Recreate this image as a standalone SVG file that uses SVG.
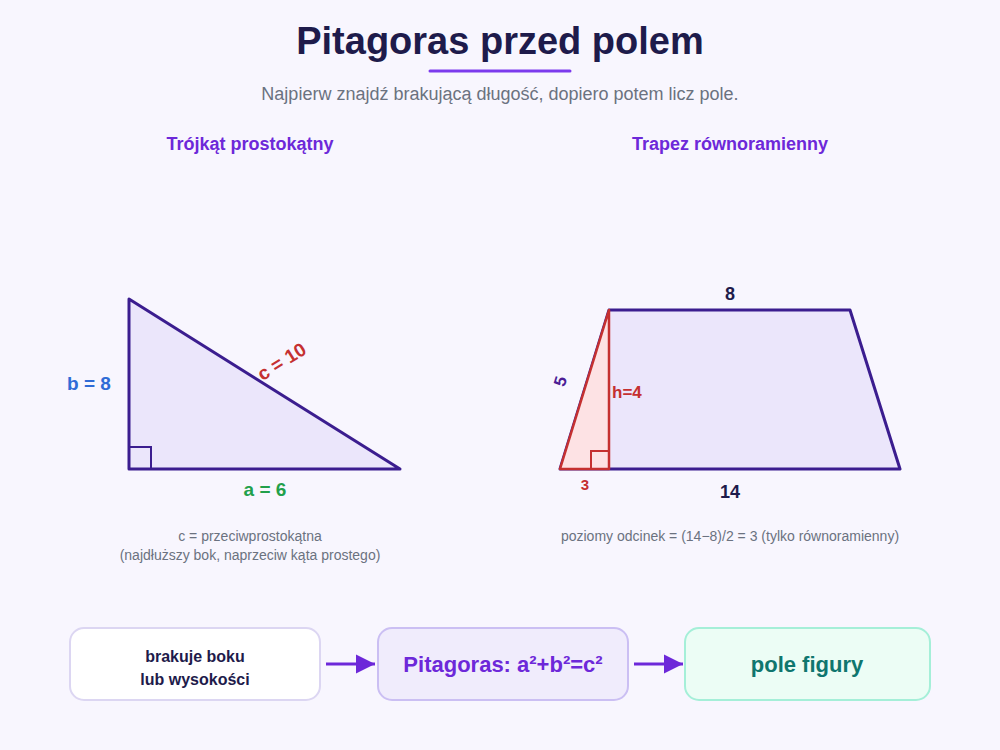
<svg xmlns="http://www.w3.org/2000/svg" width="1000" height="750" viewBox="0 0 1000 750">
<defs>
<style>
.t{font-family:"Liberation Sans",Arial,sans-serif}
.b{font-weight:bold}
.shape{stroke:#3b1d8f;stroke-width:3;stroke-linejoin:round;stroke-linecap:round}
.red{stroke:#c53030;stroke-width:2.5;stroke-linejoin:round}
.cap{font-size:14px;fill:#6b7280;text-anchor:middle}
.hdr{font-size:18px;fill:#6d28d9;font-weight:bold;text-anchor:middle}
.conn{stroke:#6d28d9;stroke-width:3;fill:none}
</style>
<marker id="ah" viewBox="0 0 10 10" refX="10" refY="5" markerWidth="6.5" markerHeight="6.7" orient="auto" markerUnits="strokeWidth">
<path d="M0,0 L10,5 L0,10 z" fill="#6d28d9"/>
</marker>
</defs>
<rect width="1000" height="750" fill="#f8f6fe"/>
<g id="title">
<text class="t b" x="500" y="54" font-size="38" fill="#1e1b4b" text-anchor="middle">Pitagoras przed polem</text>
<line x1="430" y1="71" x2="570" y2="71" stroke="#7c3aed" stroke-width="3" stroke-linecap="round"/>
<text class="t" x="500" y="100" font-size="18" fill="#6b7280" text-anchor="middle">Najpierw znajdź brakującą długość, dopiero potem licz pole.</text>
</g>
<g id="triangle">
<text class="t hdr" x="250" y="150">Trójkąt prostokątny</text>
<polygon class="shape" points="129,299 129,469 400,469" fill="#ebe6fb"/>
<polyline points="129,447 151,447 151,469" fill="none" stroke="#3b1d8f" stroke-width="2"/>
<text class="t b" x="89" y="390" font-size="19" fill="#2f6bd6" text-anchor="middle">b = 8</text>
<text class="t b" x="265" y="496" font-size="19" fill="#22a04b" text-anchor="middle">a = 6</text>
<text class="t b" font-size="19" fill="#c53030" text-anchor="middle" transform="translate(285,367) rotate(-32)">c = 10</text>
<text class="t cap" x="250" y="541">c = przeciwprostokątna</text>
<text class="t cap" x="250" y="560">(najdłuższy bok, naprzeciw kąta prostego)</text>
</g>
<g id="trapezoid">
<text class="t hdr" x="730" y="150">Trapez równoramienny</text>
<polygon class="shape" points="560,469 609,310 850,310 900,469" fill="#ebe6fb"/>
<polygon class="red" points="560,469 609,310 609,469" fill="#fde2e4"/>
<polyline points="591,469 591,451 609,451" fill="none" stroke="#c53030" stroke-width="2"/>
<text class="t b" x="730" y="300" font-size="18" fill="#1e1b4b" text-anchor="middle">8</text>
<text class="t b" x="730" y="498" font-size="18" fill="#1e1b4b" text-anchor="middle">14</text>
<text class="t b" font-size="17" fill="#4c1d95" text-anchor="middle" transform="translate(566,383) rotate(-73)">5</text>
<text class="t b" x="612" y="398" font-size="17" fill="#c53030">h=4</text>
<text class="t b" x="585" y="490" font-size="15" fill="#c53030" text-anchor="middle">3</text>
<text class="t cap" x="730" y="541">poziomy odcinek = (14−8)/2 = 3 (tylko równoramienny)</text>
</g>
<g id="connectors">
<line class="conn" x1="326" y1="664" x2="375" y2="664" marker-end="url(#ah)"/>
<line class="conn" x1="634" y1="664" x2="683" y2="664" marker-end="url(#ah)"/>
</g>
<g id="node-missing">
<rect x="70" y="628" width="250" height="72" rx="14" fill="#ffffff" stroke="#dcd6f2" stroke-width="2"/>
<text class="t b" x="195" y="662" font-size="16" fill="#1e1b4b" text-anchor="middle">brakuje boku</text>
<text class="t b" x="195" y="685" font-size="16" fill="#1e1b4b" text-anchor="middle">lub wysokości</text>
</g>
<g id="node-pythagoras">
<rect x="378" y="628" width="250" height="72" rx="14" fill="#f0ecfc" stroke="#cbbff3" stroke-width="2"/>
<text class="t b" x="503" y="672" font-size="22" fill="#6d28d9" text-anchor="middle">Pitagoras: a²+b²=c²</text>
</g>
<g id="node-area">
<rect x="685" y="628" width="245" height="72" rx="14" fill="#ecfdf5" stroke="#a5efd8" stroke-width="2"/>
<text class="t b" x="807" y="672" font-size="22" fill="#0f766e" text-anchor="middle">pole figury</text>
</g>
</svg>
